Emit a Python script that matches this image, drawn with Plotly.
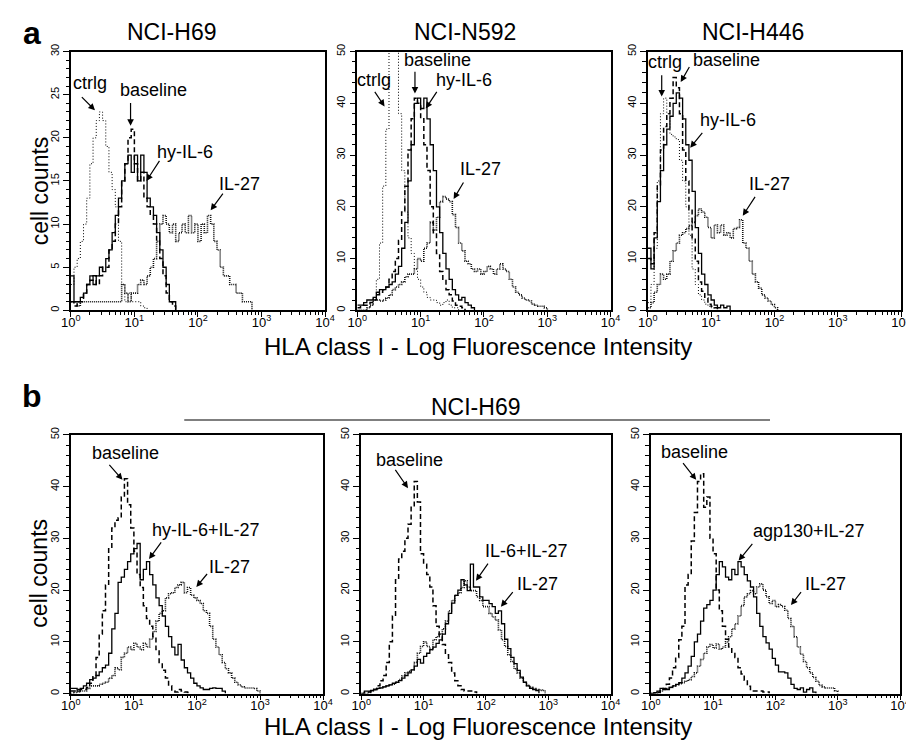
import plotly.graph_objects as go

# target picture size, and the page offset that the browser's default body margin adds
W, H = 914, 745
PAGE_OFF = 8
FIG_W, FIG_H = W - PAGE_OFF, H - PAGE_OFF

# ---------------- data ----------------
# histogram bin positions in decades (log10 of fluorescence intensity)
BIN_LOG = [0.00, 0.05, 0.10, 0.15, 0.20, 0.25, 0.30, 0.35, 0.40, 0.45,
           0.50, 0.55, 0.60, 0.65, 0.70, 0.75, 0.80, 0.85, 0.90, 0.95,
           1.00, 1.05, 1.10, 1.15, 1.20, 1.25, 1.30, 1.35, 1.40, 1.45,
           1.50, 1.55, 1.60, 1.65, 1.70, 1.75, 1.80, 1.85, 1.90, 1.95,
           2.00, 2.05, 2.10, 2.15, 2.20, 2.25, 2.30, 2.35, 2.40, 2.45,
           2.50, 2.55, 2.60, 2.65, 2.70, 2.75, 2.80, 2.85, 2.90, 2.95,
           3.00]

# panel a1: NCI-H69
A1_CTRLG = [3, 5, 6, 8, 10, 13, 17, 20, 22, 23, 22, 19, 16, 14, 12, 8, 3, 1, 2, 1, 1, 1, 0.5, 0.3, 0]
A1_BASELINE = [1, 0.5, 1, 1, 2, 3, 3.5, 4, 3, 4, 5, 5, 7, 8, 10, 12, 15, 17, 20, 21,
               17, 15, 16, 13, 12, 11, 10, 8, 6, 4, 2, 1, 0.5, 0]
A1_HYIL6 = [4, 1, 1, 1.5, 2, 3, 4, 3, 4, 5, 4.5, 6, 7, 9, 11, 13, 15, 17, 18, 16,
            18, 15, 18, 16, 13, 12, 11, 9, 7, 5, 3, 1, 1, 0]
A1_IL27 = [1, 1, 0.5, 1, 1, 1, 1, 1, 1, 1, 1, 1, 1, 1, 1, 1, 3, 2, 1, 2,
           2, 3, 3.5, 3, 4, 5, 6, 8, 10, 11, 10, 9, 10, 8, 9, 10, 9, 11, 9, 10,
           8, 10, 9, 11, 10, 8, 7, 5, 4, 4, 3, 3, 2, 2, 1, 1, 1, 0]

# panel a2: NCI-N592
A2_CTRLG = [0, 0, 0, 0, 1, 2.5, 6, 13, 24, 35, 52, 58, 55, 38, 27, 19, 14, 11, 8, 6,
            4.5, 3.5, 2.5, 2, 2, 1.5, 1, 1.5, 2, 1, 0.5, 0.5, 0]
A2_BASELINE = [0.5, 1, 1, 1, 1.5, 2, 3, 3.5, 4, 4.5, 6, 7.5, 10, 13.5, 19, 24, 31, 37, 41, 40,
               37, 32, 27, 20, 15, 11, 7.5, 6, 4, 3, 1.8, 1, 0.8, 0.5, 0]
A2_HYIL6 = [1, 1, 1.5, 2, 2, 2.5, 3.5, 4, 4, 4.5, 5, 5.5, 7, 8.5, 12, 17, 25, 32, 40, 41,
            39, 41, 37, 32, 27, 20, 15, 11, 8, 6, 4, 3, 2, 2.5, 1.5, 1, 0.5, 0]
A2_IL27 = [0, 0, 0, 0.5, 1, 2, 2, 1.8, 2, 2.4, 3, 4, 4.5, 5, 5.5, 6.5, 7, 7, 8, 10,
           9.5, 12, 13, 17, 15.5, 18, 21, 22, 21.5, 21, 18.5, 16, 13, 11.5, 9.5, 9, 8, 7.5, 8, 7,
           7.5, 8.5, 8, 7, 8, 9, 8, 7.5, 6, 4.5, 3.5, 3, 2.4, 2, 1.8, 1.2, 1, 0.8, 0.8, 0.5, 0]

# panel a3: NCI-H446
A3_CTRLG = [1.5, 5, 12, 25, 38, 41, 38, 34, 33.5, 33, 29, 25, 20, 14.5, 8, 5, 3, 2, 1.2, 0.8, 0.5, 0]
A3_BASELINE = [10, 9, 15, 24, 31, 35.5, 38, 41, 45, 43, 38, 31, 25, 19.5, 14, 9.5, 5.5, 3.7, 2.4, 1.2,
               0.8, 0.5, 0]
A3_HYIL6 = [12, 8, 14, 21, 27, 32, 35, 37.5, 40, 42, 41, 37, 32, 29, 23, 16, 11, 7, 5, 3,
            2, 1, 0.5, 1, 0.5, 0.8, 0]
A3_IL27 = [0.5, 1.5, 3.5, 5, 7, 6, 7, 9.5, 11.5, 13, 14.5, 15, 15.8, 16.4, 17, 18.3, 19.6, 19, 18, 16,
           14, 16.5, 15, 16.5, 14.5, 15, 14, 15.8, 16, 17.5, 13, 12, 9.5, 7, 5.5, 4.3, 3, 2.4, 1.8, 1.1,
           0.5, 0]

# panel b1: NCI-H69, hy-IL-6 + IL-27
B1_BASELINE = [0.5, 0.5, 0.8, 0.8, 0.8, 1.2, 2, 3.5, 7, 11.5, 16, 21, 28, 32, 33.5, 34, 38, 41.5, 36.5, 32,
               27.5, 23, 20.5, 17, 14.5, 13, 11, 8.5, 6, 4.5, 3, 1.5, 0.5, 0.3, 0.8, 0.5, 0.3, 0.2, 0]
B1_COMBO = [1, 1, 0.5, 1, 1.5, 2, 2.7, 3, 3.5, 4.2, 5, 5.5, 7.8, 12.5, 15.5, 21.5, 22.5, 24, 25.5, 27,
            28, 29, 22, 24, 25.5, 23, 21, 18.5, 17, 15, 13, 11, 9, 7.5, 9.5, 6.5, 5, 4, 3, 2,
            1.5, 1.1, 0.8, 0.8, 1, 1.1, 1, 1, 0.5, 0]
B1_IL27 = [0, 0.2, 0.3, 0.5, 0.5, 1, 1.5, 1.5, 1.5, 1.8, 2, 2.2, 3, 3.5, 5, 4.6, 7, 7.8, 9, 8.5,
           9.7, 9, 8.5, 9.7, 9, 10.5, 12, 14, 15.5, 16, 18.5, 19.3, 19.5, 20.5, 21, 21.5, 19.5, 20.5, 19, 18.5,
           18, 17.4, 16, 15.5, 13, 10.5, 9, 7.5, 6, 4.8, 4, 3, 2.2, 1.7, 1.3, 1.1, 1.1, 1.1, 1, 0.5, 0]

# panel b2: NCI-H69, IL-6 + IL-27
B2_BASELINE = [0, 0.2, 0.3, 0.5, 0.8, 1.5, 2.5, 3.5, 6, 10, 15, 22, 26, 27.5, 30, 32.7, 36, 41, 37, 27,
               25, 23, 20.6, 17, 13, 11, 9.5, 7.5, 6, 4, 2.5, 1.5, 0.8, 0.5, 0.5, 0.5, 0.3, 0]
B2_COMBO = [0, 0.5, 0.5, 0.6, 0.8, 1, 1.1, 1.3, 1.5, 1.7, 2, 2.2, 2.5, 3, 3.5, 4, 4.6, 5.3, 6.6, 5.9,
            7.2, 7.8, 8.5, 9, 9.7, 10.4, 11.5, 13.5, 15.5, 17.5, 19, 20, 22, 21, 19.9, 25, 20.6, 20.6, 18.7, 18,
            18, 17.4, 16.8, 15.5, 16, 13.5, 10.5, 8.7, 7, 5.8, 4.5, 3.2, 2.2, 1.5, 1, 0.8, 0.6, 0]
B2_IL27 = [0, 0, 0.2, 0.5, 0.8, 1, 1.1, 1.3, 1.5, 1.7, 1.8, 2.2, 2.7, 3.4, 4, 4.3, 4.6, 6, 7.8, 9.1,
           10, 9.1, 8.5, 10.4, 11, 11.5, 12.5, 14, 16, 18, 19, 19.5, 20.5, 21.8, 20.6, 19.9, 19.9, 18.7, 18, 16.8,
           16.8, 15.5, 14.8, 14.2, 12.3, 10.4, 9.1, 7.5, 6.2, 4.8, 4, 3, 2.2, 1.6, 1.2, 1, 0.8, 0.7, 0.6, 0]

# panel b3: NCI-H69, agp130 + IL-27
B3_BASELINE = [0, 0, 0.2, 0.5, 1, 1.8, 3, 5, 7, 10.4, 13, 21, 23, 29.5, 35, 41, 42.5, 36, 38, 30,
               27, 20, 16, 13, 10.5, 9, 8, 7, 5, 3.8, 2.6, 1.4, 0.5, 0.5, 0.5, 0.5, 0.3, 0.3, 0]
B3_COMBO = [0, 0.2, 0.5, 1, 0.8, 0.8, 1.2, 1.5, 1.8, 2.1, 3, 4, 5.3, 7.2, 10, 11.5, 14, 16.5, 17.2, 18,
            20, 23, 25.5, 24.5, 22.5, 22, 24, 23, 25.5, 24.5, 23, 21.8, 20.6, 18.7, 15.5, 13, 11, 9.8, 8.6, 6.8,
            5.5, 4.2, 4.2, 4, 3, 1.8, 1, 0.8, 1.1, 0.3, 0.8, 1.1, 0.3, 0]
B3_IL27 = [0, 0, 0.2, 0.5, 0.8, 1, 1.2, 1.5, 1.7, 1.9, 2.1, 2.4, 2.7, 3.3, 4, 5.3, 6.6, 7.8, 9, 9.5,
           8.8, 9.6, 8.6, 9, 10, 11, 12.5, 13.5, 15, 17, 18.7, 19.3, 19.9, 19.3, 20.6, 21.2, 20, 18.7, 17.4, 18,
           16.8, 17.2, 16.8, 16.1, 14.5, 13, 11, 9, 7.6, 6.2, 5, 4, 3.1, 2.4, 1.6, 1.3, 1.1, 1.1, 1.1, 0.5, 0]

# axis ticks
DECADES = [1, 10, 100, 1000, 10000]
DECADE_TEXT = ["10<sup>0</sup>", "10<sup>1</sup>", "10<sup>2</sup>", "10<sup>3</sup>", "10<sup>4</sup>"]

# labels: (text, text_log, text_count, tail_log, tail_count, head_log, head_count)
A1_LABELS = [("ctrlg", 0.30, 26.3, 0.15, 24.9, 0.38, 23.2),
             ("baseline", 1.30, 25.5, 0.94, 24.2, 0.94, 21.4),
             ("hy-IL-6", 1.79, 18.4, 1.41, 17.5, 1.19, 15.0),
             ("IL-27", 2.66, 14.6, 2.41, 13.7, 2.20, 11.6)]
A2_LABELS = [("ctrlg", 0.27, 44.5, 0.26, 42.5, 0.43, 39.4),
             ("baseline", 1.26, 48.3, 0.91, 46.4, 0.91, 41.9),
             ("hy-IL-6", 1.69, 44.5, 1.27, 42.5, 1.08, 39.0),
             ("IL-27", 1.95, 27.3, 1.69, 25.0, 1.52, 21.5)]
A3_LABELS = [("ctrlg", 0.27, 48.0, 0.22, 45.7, 0.22, 41.3),
             ("baseline", 1.24, 48.3, 0.67, 47.3, 0.52, 44.1),
             ("hy-IL-6", 1.27, 36.8, 0.88, 34.6, 0.67, 31.4),
             ("IL-27", 1.92, 24.4, 1.71, 22.2, 1.50, 18.3)]
B1_LABELS = [("baseline", 0.875, 46.4, 0.59, 44.5, 0.82, 41.3),
             ("hy-IL-6+IL-27", 2.15, 31.7, 1.45, 29.5, 1.24, 26.0),
             ("IL-27", 2.52, 24.4, 2.18, 23.4, 1.99, 20.6)]
B2_LABELS = [("baseline", 0.77, 45.1, 0.53, 43.5, 0.75, 39.7),
             ("IL-6+IL-27", 2.65, 27.6, 2.05, 25.4, 1.84, 21.8),
             ("IL-27", 2.83, 21.2, 2.45, 19.9, 2.24, 16.8)]
B3_LABELS = [("baseline", 0.71, 46.7, 0.50, 44.8, 0.73, 41.3),
             ("agp130+IL-27", 2.54, 31.4, 1.65, 29.2, 1.41, 25.7),
             ("IL-27", 2.80, 21.2, 2.43, 19.9, 2.25, 17.1)]

# ---------------- styles ----------------
FONT = "Liberation Sans, Arial, Helvetica, sans-serif"
STYLE = {
    "ctrl": dict(color="black", width=1.0, dash="1px,2px"),
    "base": dict(color="black", width=1.5, dash="5px,3px"),
    "treat": dict(color="black", width=1.3),
    "il27": dict(color="#111111", width=1.6, dash="1px,1px"),
}

PANELS = [
    dict(xd=(62, 322), yd=(44, 306), ymax=30, dtick=5, minor=1,
         series=[("ctrl", A1_CTRLG), ("il27", A1_IL27), ("base", A1_BASELINE), ("treat", A1_HYIL6)],
         labels=A1_LABELS),
    dict(xd=(355, 614), yd=(44, 306), ymax=50, dtick=10, minor=2,
         series=[("ctrl", A2_CTRLG), ("il27", A2_IL27), ("base", A2_BASELINE), ("treat", A2_HYIL6)],
         labels=A2_LABELS),
    dict(xd=(652, 911), yd=(44, 306), ymax=50, dtick=10, minor=2,
         series=[("ctrl", A3_CTRLG), ("il27", A3_IL27), ("base", A3_BASELINE), ("treat", A3_HYIL6)],
         labels=A3_LABELS),
    dict(xd=(62, 320), yd=(432, 694), ymax=50, dtick=10, minor=2,
         series=[("il27", B1_IL27), ("base", B1_BASELINE), ("treat", B1_COMBO)],
         labels=B1_LABELS),
    dict(xd=(359, 614), yd=(432, 694), ymax=50, dtick=10, minor=2,
         series=[("il27", B2_IL27), ("base", B2_BASELINE), ("treat", B2_COMBO)],
         labels=B2_LABELS),
    dict(xd=(655, 910), yd=(432, 694), ymax=50, dtick=10, minor=2,
         series=[("il27", B3_IL27), ("base", B3_BASELINE), ("treat", B3_COMBO)],
         labels=B3_LABELS),
]

MINOR_X = [m * 10 ** k for k in range(4) for m in range(2, 10)]


def px_x(v):
    return (v - PAGE_OFF) / FIG_W


def px_y(v):
    return 1 - (v - PAGE_OFF) / FIG_H


fig = go.Figure()
layout = dict(width=FIG_W, height=FIG_H, margin=dict(l=0, r=0, t=0, b=0),
              paper_bgcolor="white", plot_bgcolor="white", showlegend=False,
              font=dict(family=FONT, color="black"))
annotations = []

for i, p in enumerate(PANELS):
    n = "" if i == 0 else str(i + 1)
    xa, ya = "x" + n, "y" + n
    for kind, counts in p["series"]:
        xs = [10 ** b for b in BIN_LOG[:len(counts)]]
        fig.add_trace(go.Scatter(x=xs, y=counts, mode="lines", line=dict(shape="hv", **STYLE[kind]),
                                 xaxis=xa, yaxis=ya, hoverinfo="skip"))
    layout["xaxis" + n] = dict(
        type="log", range=[0, 4], domain=[px_x(p["xd"][0]), min(1.0, px_x(p["xd"][1]))], anchor=ya,
        showline=True, linecolor="black", linewidth=1.6, mirror=True, showgrid=False, zeroline=False,
        ticks="outside", ticklen=5, tickwidth=1, tickcolor="black",
        tickmode="array", tickvals=DECADES, ticktext=DECADE_TEXT, ticklabelstandoff=-6,
        tickfont=dict(size=13, family=FONT),
        minor=dict(tickmode="array", tickvals=MINOR_X, ticks="outside", ticklen=3, tickwidth=1,
                   tickcolor="black", showgrid=False))
    layout["yaxis" + n] = dict(
        range=[0, p["ymax"]], domain=[px_y(p["yd"][1]), px_y(p["yd"][0])], anchor=xa,
        showline=True, linecolor="black", linewidth=1.6, mirror=True, showgrid=False, zeroline=False,
        ticks="outside", ticklen=6, tickwidth=1, tickcolor="black",
        tickmode="linear", tick0=0, dtick=p["dtick"], tickangle=-90,
        tickfont=dict(size=11, family=FONT),
        minor=dict(dtick=p["minor"], ticks="outside", ticklen=3.5, tickwidth=1, tickcolor="black",
                   showgrid=False))
    for text, tx, ty, ax_, ay_, hx, hy in p["labels"]:
        annotations.append(dict(x=tx, y=ty, xref=xa, yref=ya, text=text, showarrow=False,
                                xanchor="center", yanchor="middle",
                                font=dict(size=18, family=FONT, color="black")))
        annotations.append(dict(x=hx, y=hy, xref=xa, yref=ya, ax=ax_, ay=ay_, axref=xa, ayref=ya,
                                text="", showarrow=True, arrowhead=2, arrowsize=1.1,
                                arrowwidth=1.2, arrowcolor="black"))

# page-level text: (text, x px, y px, size, angle)
PAGE_TEXT = [
    ("<b>a</b>", 22, 25, 32, 0),
    ("<b>b</b>", 22, 393, 32, 0),
    ("NCI-H69", 165, 24, 23, 0),
    ("NCI-N592", 465, 24, 23, 0),
    ("NCI-H446", 760, 24, 23, 0),
    ("NCI-H69", 476, 404, 23, 0),
    ("HLA class I - Log Fluorescence Intensity", 478, 343, 24, 0),
    ("HLA class I - Log Fluorescence Intensity", 478, 727, 24, 0),
    ("cell counts", 30, 185, 23, -90),
    ("cell counts", 30, 572, 23, -90),
]
for text, x, y, size, ang in PAGE_TEXT:
    annotations.append(dict(x=px_x(x), y=px_y(y), xref="paper", yref="paper", text=text,
                            showarrow=False, xanchor="center", yanchor="middle", textangle=ang,
                            font=dict(size=size, family=FONT, color="black")))

layout["annotations"] = annotations
layout["shapes"] = [dict(type="line", xref="paper", yref="paper",
                         x0=px_x(178), x1=px_x(777), y0=px_y(417), y1=px_y(417),
                         line=dict(color="black", width=1.2))]
fig.update_layout(**layout)
fig.write_html("out.html")
